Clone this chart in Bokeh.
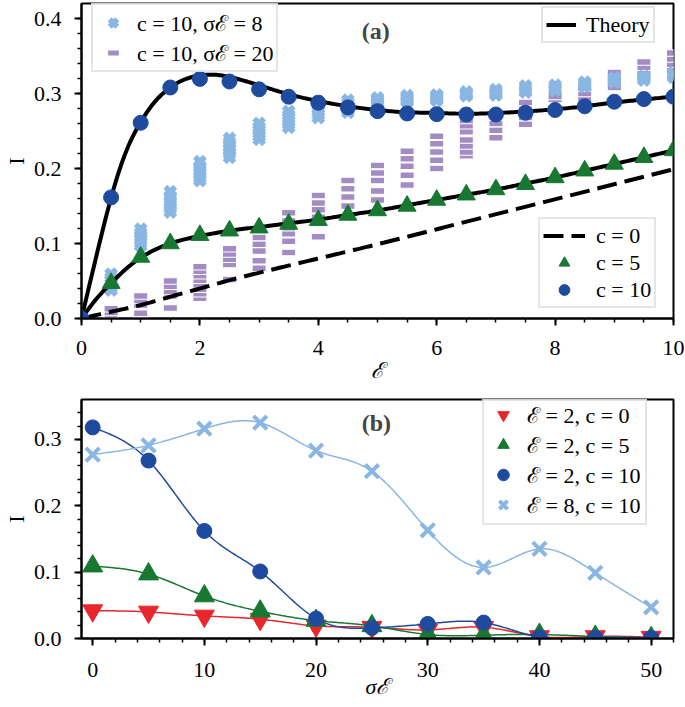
import numpy as np
from bokeh.plotting import figure
from bokeh.models import (Legend, LegendItem, Label, Range1d, SingleIntervalTicker,
                          PrintfTickFormatter)
from bokeh.layouts import column
from bokeh.embed import file_html
from bokeh.resources import INLINE

FONT = "Liberation Serif"
BLUE = "#1f4b9f"
GREEN = "#187832"
LBLUE = "#89b6e3"
PURPLE = "#a38cc4"
RED = "#e8262b"

# ---------------- panel (a) data ----------------
E_pts = [0, 0.5, 1, 1.5, 2, 2.5, 3, 3.5, 4, 4.5, 5, 5.5, 6, 6.5, 7, 7.5, 8, 8.5, 9, 9.5, 10]
I_c10 = [0.0, 0.1615, 0.261, 0.308, 0.3195, 0.316, 0.3056, 0.2957, 0.2877, 0.2815, 0.2765,
         0.2734, 0.2725, 0.272, 0.272, 0.2743, 0.278, 0.283, 0.289, 0.2926, 0.2957]
I_c5 = [0.0, 0.047, 0.082, 0.100, 0.111, 0.117, 0.121, 0.126, 0.131, 0.138, 0.144,
        0.150, 0.158, 0.165, 0.172, 0.179, 0.188, 0.197, 0.206, 0.215, 0.224]

theory_c10_E = [0, 0.25, 0.5, 0.75, 1, 1.25, 1.5, 1.75, 2, 2.25, 2.5, 3, 3.5, 4, 4.5, 5,
                5.5, 6, 6.5, 7, 7.5, 8, 8.5, 9, 9.5, 10]
theory_c10_I = [0.0, 0.083, 0.161, 0.222, 0.262, 0.290, 0.308, 0.319, 0.324, 0.325, 0.322,
                0.311, 0.299, 0.290, 0.283, 0.278, 0.275, 0.274, 0.273, 0.274, 0.276, 0.279,
                0.283, 0.288, 0.292, 0.296]
theory_c5_E = [0, 0.25, 0.5, 0.75, 1, 1.5, 2, 2.5, 3, 3.5, 4, 4.5, 5, 5.5, 6, 6.5, 7, 7.5,
               8, 8.5, 9, 9.5, 10]
theory_c5_I = [0.0, 0.026, 0.047, 0.066, 0.081, 0.100, 0.110, 0.117, 0.122, 0.127, 0.132,
               0.138, 0.144, 0.151, 0.158, 0.165, 0.172, 0.180, 0.188, 0.197, 0.206, 0.215,
               0.224]
theory_c0_E = [0, 0.5, 1, 1.5, 2, 2.5, 3, 4, 5, 6, 7, 8, 9, 10]
theory_c0_I = [0.0, 0.009, 0.018, 0.029, 0.040, 0.051, 0.061, 0.080, 0.099, 0.119, 0.139,
               0.159, 0.179, 0.199]

# noisy runs (c = 10), one list of realisations per E value (E = 0.5 ... 10)
E_runs = [0.5, 1, 1.5, 2, 2.5, 3, 3.5, 4, 4.5, 5, 5.5, 6, 6.5, 7, 7.5, 8, 8.5, 9, 9.5, 10]
runs_sig8 = [
    [0.038, 0.042, 0.046, 0.050, 0.054, 0.059],
    [0.097, 0.101, 0.105, 0.109, 0.114, 0.119],
    [0.142, 0.147, 0.152, 0.157, 0.163, 0.169],
    [0.184, 0.188, 0.193, 0.198, 0.203, 0.209],
    [0.215, 0.220, 0.225, 0.230, 0.235, 0.240],
    [0.239, 0.243, 0.247, 0.251, 0.255, 0.260],
    [0.255, 0.259, 0.263, 0.267, 0.271, 0.276],
    [0.268, 0.272, 0.276, 0.280, 0.284, 0.289],
    [0.275, 0.278, 0.281, 0.284, 0.287, 0.291],
    [0.286, 0.288, 0.290, 0.292, 0.294],
    [0.289, 0.291, 0.293, 0.295, 0.297],
    [0.291, 0.293, 0.295, 0.297, 0.298],
    [0.297, 0.299, 0.300, 0.302],
    [0.298, 0.300, 0.302, 0.305],
    [0.302, 0.304, 0.307, 0.310],
    [0.304, 0.306, 0.308, 0.311],
    [0.309, 0.311, 0.313, 0.315],
    [0.315, 0.317, 0.319, 0.321],
    [0.318, 0.320, 0.322, 0.323],
    [0.322, 0.324, 0.326, 0.327],
]
runs_sig20 = [
    [0.003, 0.008, 0.013],
    [0.002, 0.007, 0.018, 0.024, 0.030],
    [0.014, 0.030, 0.036, 0.043, 0.050],
    [0.027, 0.033, 0.039, 0.045, 0.051, 0.057, 0.063, 0.069],
    [0.052, 0.072, 0.079, 0.086, 0.093],
    [0.067, 0.077, 0.090, 0.099, 0.108],
    [0.088, 0.103, 0.113, 0.121, 0.130, 0.141],
    [0.109, 0.135, 0.145, 0.154, 0.164],
    [0.150, 0.162, 0.173, 0.184],
    [0.158, 0.170, 0.184, 0.194, 0.204],
    [0.178, 0.191, 0.203, 0.213, 0.223],
    [0.200, 0.211, 0.222, 0.233, 0.243],
    [0.217, 0.222, 0.230, 0.238, 0.249, 0.257, 0.264],
    [0.241, 0.251, 0.260, 0.270],
    [0.259, 0.268, 0.279, 0.288],
    [0.292, 0.296],
    [0.293, 0.300, 0.307],
    [0.308, 0.315, 0.322, 0.328],
    [0.321, 0.328, 0.335, 0.342],
    [0.332, 0.339, 0.346, 0.354],
]

# ---------------- panel (b) data ----------------
sigma = [0, 5, 10, 15, 20, 25, 30, 35, 40, 45, 50]
I_E2_c0 = [0.042, 0.040, 0.034, 0.029, 0.019, 0.017, 0.013, 0.017, 0.003, 0.003, 0.002]
I_E2_c5 = [0.109, 0.097, 0.064, 0.041, 0.027, 0.019, 0.006, 0.005, 0.006, 0.003, 0.001]
I_E2_c10 = [0.318, 0.268, 0.162, 0.101, 0.030, 0.016, 0.022, 0.024, 0.002, 0.001, 0.001]
I_E8_c10 = [0.277, 0.291, 0.316, 0.325, 0.283, 0.252, 0.163, 0.107, 0.135, 0.099, 0.047]


def natural_spline(x, y, n=300):
    x = np.asarray(x, float)
    y = np.asarray(y, float)
    h = np.diff(x)
    m = len(x)
    A = np.zeros((m, m))
    b = np.zeros(m)
    A[0, 0] = 1.0
    A[-1, -1] = 1.0
    for i in range(1, m - 1):
        A[i, i - 1] = h[i - 1]
        A[i, i] = 2 * (h[i - 1] + h[i])
        A[i, i + 1] = h[i]
        b[i] = 6 * ((y[i + 1] - y[i]) / h[i] - (y[i] - y[i - 1]) / h[i - 1])
    M = np.linalg.solve(A, b)
    xs = np.linspace(x[0], x[-1], n)
    k = np.clip(np.searchsorted(x, xs) - 1, 0, m - 2)
    x0, x1 = x[k], x[k + 1]
    hh = x1 - x0
    t0, t1 = x1 - xs, xs - x0
    ys = (M[k] * t0 ** 3 / (6 * hh) + M[k + 1] * t1 ** 3 / (6 * hh)
          + (y[k] / hh - M[k] * hh / 6) * t0 + (y[k + 1] / hh - M[k + 1] * hh / 6) * t1)
    return xs, ys


def style_axes(p, xint, xminor, yint, yminor):
    p.outline_line_color = "black"
    p.outline_line_width = 2
    p.xgrid.visible = False
    p.ygrid.visible = False
    p.xaxis.ticker = SingleIntervalTicker(interval=xint, num_minor_ticks=xminor)
    p.yaxis.ticker = SingleIntervalTicker(interval=yint, num_minor_ticks=yminor)
    p.yaxis.formatter = PrintfTickFormatter(format="%.1f")
    for ax in (p.xaxis[0], p.yaxis[0]):
        ax.axis_line_width = 2
        ax.major_tick_line_width = 2
        ax.minor_tick_line_width = 1.5
        ax.major_tick_in = 0
        ax.major_tick_out = 7
        ax.minor_tick_in = 0
        ax.minor_tick_out = 4
        ax.major_label_text_font = FONT
        ax.major_label_text_font_size = "22px"
        ax.major_label_text_color = "black"
        ax.axis_label_text_font = FONT
        ax.axis_label_text_font_size = "22px"
        ax.axis_label_text_color = "black"
    p.yaxis.major_label_standoff = 13
    p.yaxis.axis_label_standoff = 2
    p.yaxis.axis_label_text_font_style = "normal"


def style_legend(lg, gw, gh, pad, standoff, spacing=0):
    lg.label_text_font = FONT
    lg.label_text_font_size = "22px"
    lg.label_text_color = "black"
    lg.glyph_width = gw
    lg.glyph_height = gh
    lg.label_height = gh
    lg.padding = pad
    lg.spacing = spacing
    lg.label_standoff = standoff
    lg.border_line_color = "#cccccc"
    lg.border_line_width = 2
    lg.background_fill_color = "white"
    lg.background_fill_alpha = 0.8
    lg.margin = 0


# ================= panel (a) =================
p1 = figure(width=685, height=393, output_backend="svg", toolbar_location=None,
            x_range=Range1d(0, 10), y_range=Range1d(0, 0.42),
            min_border_left=81, min_border_right=12, min_border_top=3, min_border_bottom=75)
style_axes(p1, 2, 4, 0.1, 5)
p1.xaxis.axis_label = "ℰ"
p1.yaxis.axis_label = "I"
p1.xaxis.major_label_standoff = 15
p1.xaxis.axis_label_standoff = 0

x20, y20 = [], []
for e, vals in zip(E_runs, runs_sig20):
    x20 += [e] * len(vals)
    y20 += vals
x8, y8 = [], []
for e, vals in zip(E_runs, runs_sig8):
    x8 += [e] * len(vals)
    y8 += vals

# purple dashes: a dash marker (also used by the legend) covered by a white-edged block
r_s20 = p1.scatter(x20, y20, marker="dash", size=12, line_color=PURPLE, line_width=5)
p1.rect(x20, y20, width=14, height=6.5, width_units="screen", height_units="screen",
        fill_color=PURPLE, line_color="white", line_width=1)
r_s8 = p1.scatter(x8, y8, marker="x", size=14, line_color=LBLUE, line_width=5.5)

xs, ys = natural_spline(theory_c0_E, theory_c0_I)
r_c0 = p1.line(xs, ys, line_color="black", line_width=4, line_dash="20 8")
xs, ys = natural_spline(theory_c5_E, theory_c5_I)
p1.line(xs, ys, line_color="black", line_width=4)
xs, ys = natural_spline(theory_c10_E, theory_c10_I)
r_th = p1.line(xs, ys, line_color="black", line_width=4)

r_c5 = p1.scatter(E_pts, I_c5, marker="triangle", size=18, fill_color=GREEN, line_color=GREEN)
r_c10 = p1.scatter(E_pts, I_c10, marker="circle", size=15, fill_color=BLUE, line_color=BLUE)

lg1 = Legend(items=[LegendItem(label="c = 10, σℰ = 8", renderers=[r_s8]),
                    LegendItem(label="c = 10, σℰ = 20", renderers=[r_s20])],
             location=(10, 246))
style_legend(lg1, 34, 27, 3, 7)
p1.add_layout(lg1)

lg2 = Legend(items=[LegendItem(label="Theory", renderers=[r_th])], location=(460, 275))
style_legend(lg2, 30, 27, 3, 10)
p1.add_layout(lg2)

lg3 = Legend(items=[LegendItem(label="c = 0", renderers=[r_c0]),
                    LegendItem(label="c = 5", renderers=[r_c5]),
                    LegendItem(label="c = 10", renderers=[r_c10])],
             location=(457, 10))
style_legend(lg3, 42, 27, 3, 11)
p1.add_layout(lg3)

p1.add_layout(Label(x=4.97, y=0.384, text="(a)", text_font=FONT, text_font_size="24px",
                    text_font_style="bold", text_align="center", text_baseline="middle"))

# ================= panel (b) =================
p2 = figure(width=685, height=314, output_backend="svg", toolbar_location=None,
            x_range=Range1d(-1, 52), y_range=Range1d(0, 0.36),
            min_border_left=81, min_border_right=12, min_border_top=6, min_border_bottom=69)
style_axes(p2, 10, 5, 0.1, 5)
p2.xaxis.axis_label = "σℰ"
p2.yaxis.axis_label = "I"
p2.xaxis.major_label_standoff = 17
p2.xaxis.axis_label_standoff = -6

series = [
    (I_E2_c0, RED, "inverted_triangle", 20, "ℰ = 2, c = 0"),
    (I_E2_c5, GREEN, "triangle", 20, "ℰ = 2, c = 5"),
    (I_E2_c10, BLUE, "circle", 15, "ℰ = 2, c = 10"),
    (I_E8_c10, LBLUE, "x", 19, "ℰ = 8, c = 10"),
]
items = []
for vals, col, mk, sz, lab in series:
    xs, ys = natural_spline(sigma, vals)
    p2.line(xs, ys, line_color=col, line_width=1.5)
    if mk == "x":
        r = p2.scatter(sigma, vals, marker=mk, size=sz, line_color=col, line_width=4)
    else:
        r = p2.scatter(sigma, vals, marker=mk, size=sz, fill_color=col, line_color=col)
    items.append(LegendItem(label=lab, renderers=[r]))

lg4 = Legend(items=items, location=(401, 113))
style_legend(lg4, 30, 29, 4, 9)
p2.add_layout(lg4)

p2.add_layout(Label(x=25.4, y=0.324, text="(b)", text_font=FONT, text_font_size="24px",
                    text_font_style="bold", text_align="center", text_baseline="middle"))

layout = column(p1, p2, spacing=0)
open("out.html", "w").write(file_html(layout, INLINE))
